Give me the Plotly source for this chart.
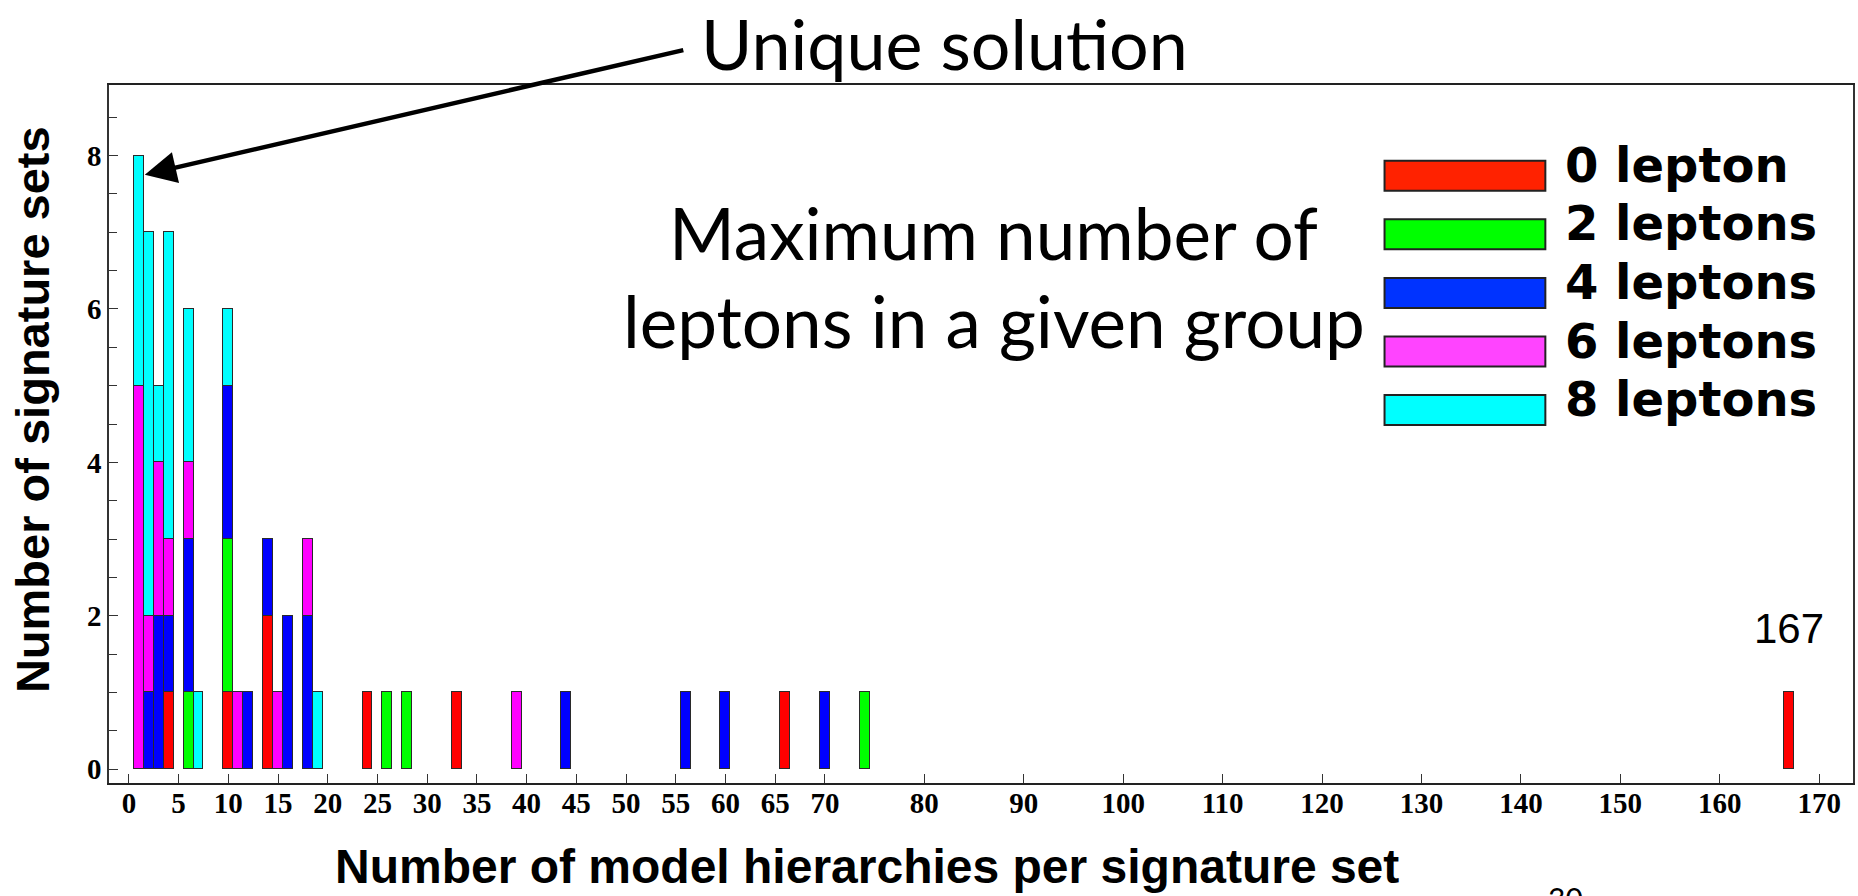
import plotly.graph_objects as go

# Number of model hierarchies per signature set (bar positions)
hierarchies = [1, 2, 3, 4, 6, 7, 10, 11, 12, 14, 15, 16, 18, 19,
               24, 26, 28, 33, 39, 44, 56, 60, 66, 70, 74, 167]

# Number of signature sets at each position, split by maximum lepton count
lep0 = [None, None, None, 1, None, None, 1, None, None, 2, None, None, None, None,
        1, None, None, 1, None, None, None, None, 1, None, None, 1]
lep2 = [None, None, None, None, 1, None, 2, None, None, None, None, None, None, None,
        None, 1, 1, None, None, None, None, None, None, None, 1, None]
lep4 = [None, 1, 2, 1, 2, None, 2, None, 1, 1, None, 2, 2, None,
        None, None, None, None, None, 1, 1, 1, None, 1, None, None]
lep6 = [5, 1, 2, 1, 1, None, None, 1, None, None, 1, None, 1, None,
        None, None, None, None, 1, None, None, None, None, None, None, None]
lep8 = [3, 5, 1, 4, 2, 1, 1, None, None, None, None, None, None, 1,
        None, None, None, None, None, None, None, None, None, None, None, None]

series_names = ["0 lepton", "2 leptons", "4 leptons", "6 leptons", "8 leptons"]
series_values = [lep0, lep2, lep4, lep6, lep8]
series_colors = ["#FF0000", "#00FF00", "#0000FF", "#FF00FF", "#00FFFF"]
legend_colors = ["#FF2200", "#00FF00", "#0033FF", "#FF44FF", "#00FFFF"]

x_ticks = [0, 5, 10, 15, 20, 25, 30, 35, 40, 45, 50, 55, 60, 65, 70,
           80, 90, 100, 110, 120, 130, 140, 150, 160, 170]
y_ticks = [0, 2, 4, 6, 8]

outlier = 167

W, H = 1858, 896
ML, MR, MT, MB = 109, 3, 85, 113
PW, PH = W - ML - MR, H - MT - MB


def px(x):
    return (x - ML) / PW


def py(y):
    return (H - MB - y) / PH


fig = go.Figure()
for name, vals, col in zip(series_names, series_values, series_colors):
    fig.add_trace(go.Bar(
        x=hierarchies, y=vals, name=name, width=1.0,
        marker=dict(color=col, line=dict(color="#2a2a2a", width=1.2)),
        showlegend=False,
    ))

tick_font = dict(family="Liberation Serif", size=29, color="black", weight="bold")

fig.update_layout(
    width=W, height=H,
    margin=dict(l=ML, r=MR, t=MT, b=MB, pad=0),
    paper_bgcolor="white", plot_bgcolor="white",
    barmode="stack", bargap=0,
    xaxis=dict(
        range=[-2, 173.4], tickmode="array", tickvals=x_ticks,
        ticktext=[str(t) for t in x_ticks],
        ticks="inside", ticklen=9, tickwidth=1.2, tickcolor="#333",
        ticklabelstandoff=-7,
        showgrid=False, zeroline=False,
        showline=True, linecolor="#222", linewidth=2, mirror=True,
        tickfont=tick_font,
    ),
    yaxis=dict(
        range=[-0.18, 8.92], tickmode="array", tickvals=y_ticks,
        ticktext=[str(t) for t in y_ticks],
        ticks="inside", ticklen=9, tickwidth=1.2, tickcolor="#333",
        minor=dict(dtick=0.5, tick0=0, ticks="inside", ticklen=8,
                   tickwidth=1.2, tickcolor="#333"),
        showgrid=False, zeroline=False,
        showline=True, linecolor="#333", linewidth=1.5, mirror=True,
        tickfont=tick_font,
    ),
)

ann = []
title_font = dict(family="Liberation Sans", size=48, color="black", weight="bold")
ann.append(dict(text="Number of model hierarchies per signature set",
                xref="paper", yref="paper", x=px(868), y=py(866),
                xanchor="center", yanchor="middle", showarrow=False,
                font=title_font))
ann.append(dict(text="Number of signature sets", textangle=-90,
                xref="paper", yref="paper", x=px(33), y=py(410),
                xanchor="center", yanchor="middle", showarrow=False,
                font=dict(family="Liberation Sans", size=47, color="black",
                          weight="bold")))

# Label over the isolated bar far to the right
ann.append(dict(text=str(outlier), xref="x", yref="y", x=outlier, y=1.83,
                xanchor="center", yanchor="middle", showarrow=False,
                font=dict(family="Liberation Sans", size=42, color="black")))

gill = dict(family="Lato", size=71, color="black")
ann.append(dict(text="Maximum number of", xref="paper", yref="paper",
                x=px(995), y=py(232), xanchor="center", yanchor="middle",
                showarrow=False, font=gill))
ann.append(dict(text="leptons in a given group", xref="paper", yref="paper",
                x=px(995), y=py(320), xanchor="center", yanchor="middle",
                showarrow=False, font=gill))

ann.append(dict(text="Unique solution", xref="paper", yref="paper",
                x=px(945), y=py(43), xanchor="center", yanchor="middle",
                showarrow=False, font=dict(family="Lato", size=70, color="black")))
# Arrow pointing at the single-solution bar
ann.append(dict(text="", xref="x", yref="y", x=1.6, y=7.75,
                ax=540, ay=-125, showarrow=True, arrowhead=2, arrowsize=1.4,
                arrowwidth=4.5, arrowcolor="black", standoff=0))

ann.append(dict(text="30", xref="paper", yref="paper", x=px(1567), y=py(878),
                xanchor="center", yanchor="top", showarrow=False,
                font=dict(family="Lato", size=30, color="black")))

# Legend drawn as large swatches with labels
shapes = []
leg_font = dict(family="DejaVu Sans", size=48, color="black", weight="bold")
for i, (name, col) in enumerate(zip(series_names, legend_colors)):
    cy = 175.7 + i * 58.6
    shapes.append(dict(type="rect", xref="paper", yref="paper",
                       x0=px(1386), x1=px(1547), y0=py(cy + 15), y1=py(cy - 15),
                       fillcolor=col, line=dict(color="#222", width=2)))
    ann.append(dict(text=name, xref="paper", yref="paper", x=px(1565), y=py(cy - 11),
                    xanchor="left", yanchor="middle", showarrow=False,
                    font=leg_font))

fig.update_layout(annotations=ann, shapes=shapes)
fig.write_html("out.html")
